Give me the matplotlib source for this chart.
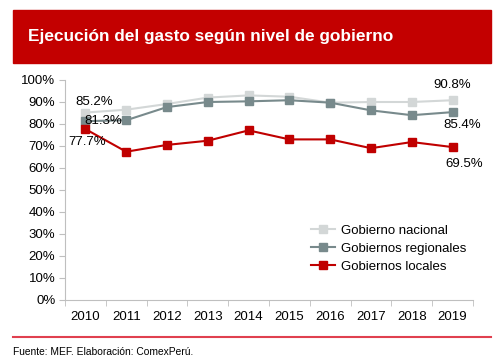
import matplotlib.pyplot as plt
from matplotlib.patches import Rectangle
from matplotlib.lines import Line2D
import numpy as np

plt.rcParams['font.family'] = ['Liberation Sans', 'DejaVu Sans']

# Datos (% de ejecucion)
years = ['2010', '2011', '2012', '2013', '2014', '2015', '2016', '2017', '2018', '2019']
nacional = [85.2, 86.5, 89.1, 92.0, 93.0, 92.4, 89.7, 90.0, 90.0, 90.8]
regionales = [81.3, 81.7, 87.7, 90.0, 90.3, 90.8, 89.7, 86.2, 84.0, 85.4]
locales = [77.7, 67.4, 70.5, 72.4, 77.1, 73.0, 73.0, 69.0, 71.8, 69.5]

c_nac = '#d3d7d7'
c_reg = '#788a8c'
c_loc = '#c00000'

fig = plt.figure(figsize=(5.03, 3.64), dpi=100)

# banner del titulo
fig.patches.append(Rectangle((13 / 503, 1 - 63 / 364), 478 / 503, 53 / 364,
                             transform=fig.transFigure, color='#c30000', zorder=0))
fig.text(28 / 503, 1 - 37 / 364, 'Ejecución del gasto según nivel de gobierno',
         color='white', fontsize=12.4, fontweight='bold', va='center', ha='left')

ax = fig.add_axes([65 / 503, 1 - 300 / 364, 408 / 503, 220 / 364])
x = np.arange(len(years))
ax.plot(x, nacional, color=c_nac, marker='s', ms=6, lw=1.5, label='Gobierno nacional')
ax.plot(x, regionales, color=c_reg, marker='s', ms=6, lw=1.5, label='Gobiernos regionales')
ax.plot(x, locales, color=c_loc, marker='s', ms=6, lw=1.5, label='Gobiernos locales')

ax.set_xlim(-0.5, len(years) - 0.5)
ax.set_ylim(0, 100)
ax.set_yticks(range(0, 101, 10))
ax.set_yticklabels([f'{v}%' for v in range(0, 101, 10)], fontsize=9.5)
ax.set_xticks(x)
ax.set_xticklabels(years, fontsize=9.5)
ax.set_xticks(np.arange(-0.5, len(years), 1), minor=True)
ax.tick_params(axis='x', which='major', length=0, pad=8)
ax.tick_params(axis='x', which='minor', length=4, color='#bfbfbf')
ax.tick_params(axis='y', length=4, color='#bfbfbf', pad=3)
for s in ['top', 'right']:
    ax.spines[s].set_visible(False)
for s in ['left', 'bottom']:
    ax.spines[s].set_color('#bfbfbf')

# etiquetas de datos
fs = 9.5
ax.annotate(f'{nacional[0]}%', (0, nacional[0]), xytext=(6, 7.5), textcoords='offset points',
            ha='center', va='center', fontsize=fs)
ax.annotate(f'{regionales[0]}%', (0, regionales[0]), xytext=(13, 0), textcoords='offset points',
            ha='center', va='center', fontsize=fs)
ax.annotate(f'{locales[0]}%', (0, locales[0]), xytext=(1.5, -9), textcoords='offset points',
            ha='center', va='center', fontsize=fs)
ax.annotate(f'{nacional[-1]}%', (9, nacional[-1]), xytext=(0, 11), textcoords='offset points',
            ha='center', va='center', fontsize=fs)
ax.annotate(f'{regionales[-1]}%', (9, regionales[-1]), xytext=(7, -9.5), textcoords='offset points',
            ha='center', va='center', fontsize=fs)
ax.annotate(f'{locales[-1]}%', (9, locales[-1]), xytext=(8, -12), textcoords='offset points',
            ha='center', va='center', fontsize=fs)

ax.legend(loc='upper left', bbox_to_anchor=(0.59, 0.368), frameon=False, fontsize=9.5,
          handlelength=1.8, handletextpad=0.45, labelspacing=0.45, borderaxespad=0)

# linea inferior y fuente
fig.lines.append(Line2D([13 / 503, 491 / 503], [1 - 337 / 364, 1 - 337 / 364],
                        transform=fig.transFigure, color='#e0404f', lw=1.5))
fig.text(13 / 503, 1 - 352 / 364, 'Fuente: MEF. Elaboración: ComexPerú.',
         fontsize=7.4, va='center', ha='left')

fig.savefig('out.png', dpi=100)
